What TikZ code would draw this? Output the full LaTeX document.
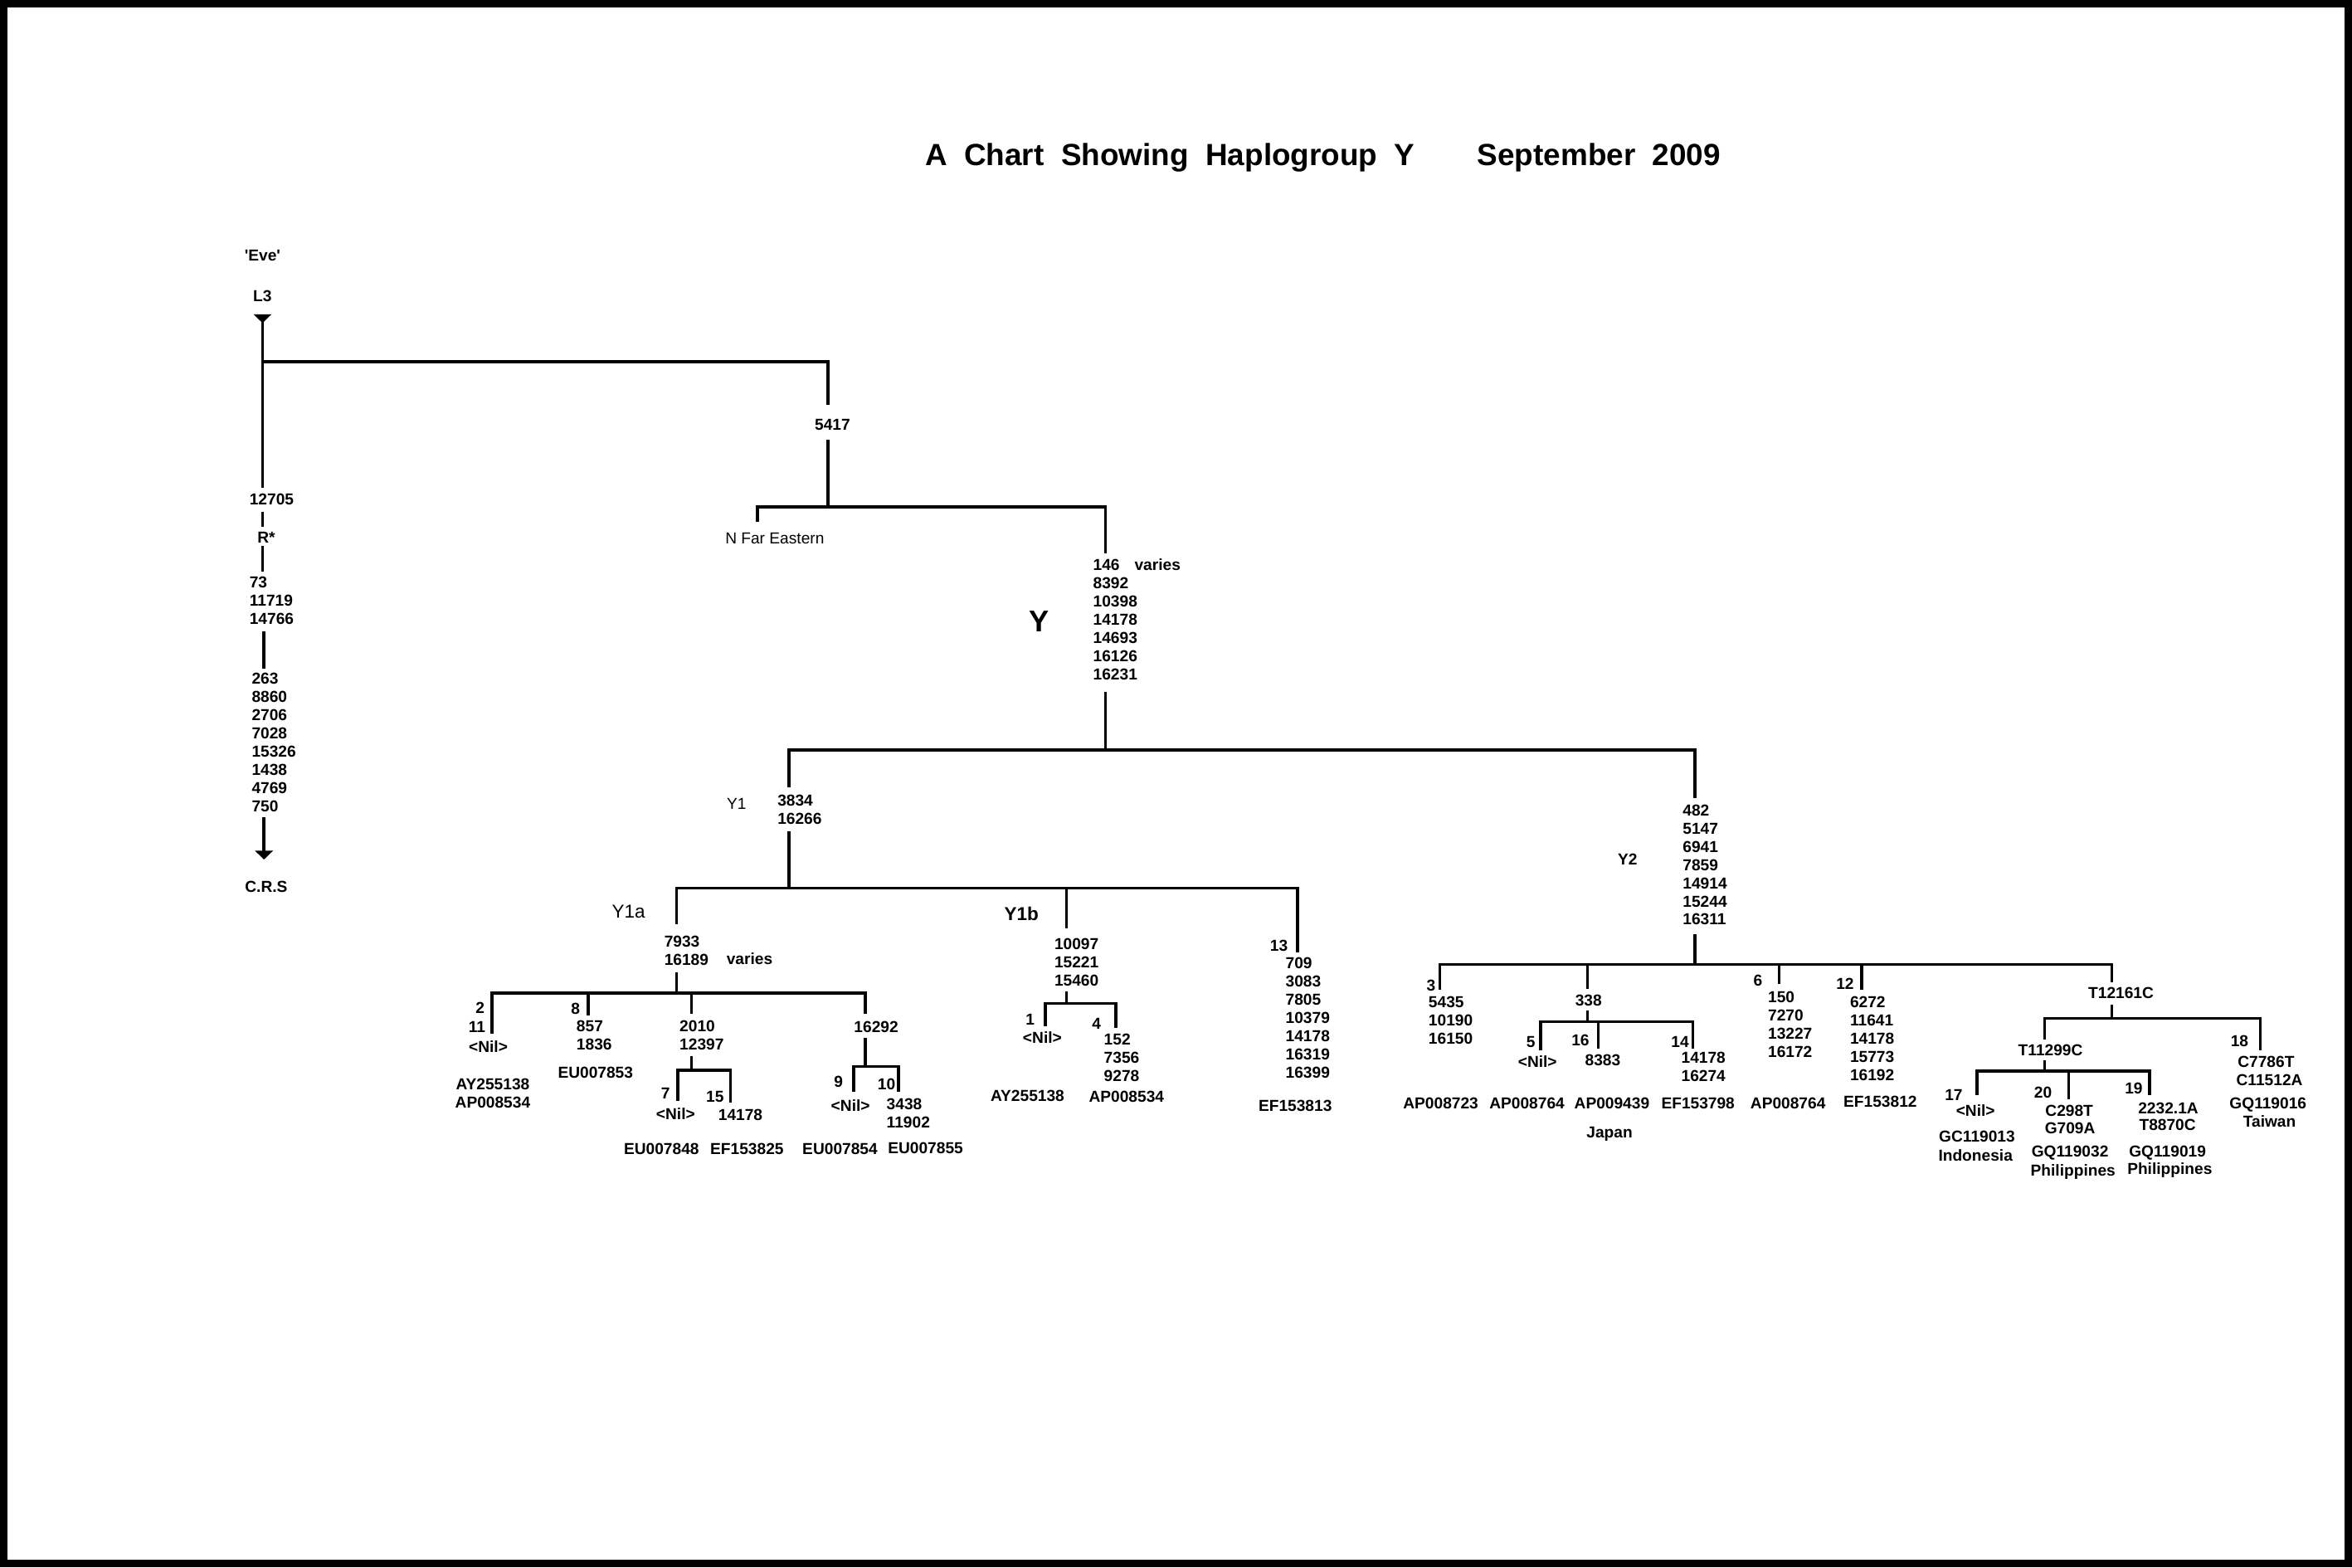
\documentclass[tikz,border=0pt]{standalone}
\usepackage{fontspec}
\setmainfont{Liberation Sans}
\usetikzlibrary{arrows.meta}
\tikzset{
  lbl/.style={font=\fontsize{5.45}{6.25}\selectfont\bfseries, inner sep=0pt, text height=3.9pt, text depth=0pt},
  lblr/.style={font=\fontsize{5.45}{6.25}\selectfont, inner sep=0pt, text height=3.9pt, text depth=0pt},
  blk/.style={font=\fontsize{5.45}{6.25}\selectfont\bfseries, inner sep=0pt, align=left, anchor=north west},
  ttl/.style={font=\fontsize{10.5}{12}\selectfont\bfseries, inner sep=0pt, text height=7.5pt, text depth=0pt},
  subr/.style={font=\fontsize{6.4}{7}\selectfont, inner sep=0pt, text height=4.6pt, text depth=0pt},
  subb/.style={font=\fontsize{6.4}{7}\selectfont\bfseries, inner sep=0pt, text height=4.6pt, text depth=0pt},
  bigy/.style={font=\fontsize{10.3}{12}\selectfont\bfseries, inner sep=0pt, text height=7.4pt, text depth=0pt},
  ln/.style={line width=1pt},
}
\begin{document}
\begin{tikzpicture}[x=0.0180804cm, y=-0.0180804cm]
\useasboundingbox (0,0) rectangle (1568,1045);
\fill[white] (0,0) rectangle (1568,1045);
\draw[line width=2.7pt] (2.6,2.6) rectangle (1565.4,1042.4);

% ---------- title
\node[ttl] (title) at (780,103) {A\ \ Chart\ \ Showing\ \ Haplogroup\ \ Y};
\node[ttl] (date) at (1066,103) {September\ \ 2009};

% ---------- coordinates of the tree
\coordinate (cTri) at (175,209.5);
\coordinate (c12705) at (175,325);
\coordinate (jRoot) at (175,241);
\coordinate (c5417) at (552,270);
\coordinate (c5417b) at (552,293);
\coordinate (jN) at (552,338);
\coordinate (cN) at (505,348);
\coordinate (cY) at (737,369);
\coordinate (cR1) at (175,341); \coordinate (cR2) at (175,351);
\coordinate (cR3) at (175,364); \coordinate (cR4) at (175,381);
\coordinate (cR5) at (176,421); \coordinate (cR6) at (176,446);
\coordinate (cR7) at (176,545); \coordinate (cCRS) at (176,573);
\coordinate (cYb) at (737,461); \coordinate (jY) at (737,500);
\coordinate (cY1) at (526,525); \coordinate (cY2) at (1130,532);
\coordinate (cY1b) at (526,554); \coordinate (jY1) at (526,592);
\coordinate (cY1a) at (451,616); \coordinate (cY1bb) at (711,619); \coordinate (c13) at (865,635);
\coordinate (cY1ab) at (451,648); \coordinate (jY1a) at (451,662);
\coordinate (c2) at (328,689); \coordinate (c8) at (392,677);
\coordinate (c2010) at (461,676); \coordinate (c16292) at (577,676);
\coordinate (c2010b) at (461,704); \coordinate (j2010) at (461,713.5);
\coordinate (c7) at (452,734); \coordinate (c15) at (487,735);
\coordinate (c16292b) at (577,692); \coordinate (j16292) at (577,711);
\coordinate (c9) at (569,728); \coordinate (c10) at (599,728);
\coordinate (cY1bbot) at (711,661); \coordinate (j1b) at (711,669);
\coordinate (c1) at (697,684); \coordinate (c4) at (744,685);
\coordinate (cY2b) at (1130,623); \coordinate (jY2) at (1130,643);
\coordinate (c3) at (960,660); \coordinate (c338) at (1058.4,659);
\coordinate (c6) at (1186,656); \coordinate (c12) at (1241,660); \coordinate (cT1) at (1408,655);
\coordinate (c338b) at (1058.4,673.5); \coordinate (j338) at (1058.4,681);
\coordinate (c5) at (1027,700); \coordinate (c16) at (1065.5,699); \coordinate (c14) at (1128.5,699);
\coordinate (cT1b) at (1408,670); \coordinate (jT1) at (1408,679);
\coordinate (cT2) at (1363,693); \coordinate (c18) at (1507,700);
\coordinate (cT2b) at (1363,707); \coordinate (jT2) at (1363,714);
\coordinate (c17) at (1318,730); \coordinate (c20) at (1379,733); \coordinate (c19) at (1433,730);

% ---------- connectors
\draw[ln, {Triangle[reversed,width=6pt,length=3pt]}-] (cTri) -- (c12705);
\draw[ln] (jRoot) -| (c5417);
\draw[ln] (c5417b) -- (jN);
\draw[ln] (jN) -| (cN);
\draw[ln] (jN) -| (cY);
\draw[ln] (cR1) -- (cR2);
\draw[ln] (cR3) -- (cR4);
\draw[ln] (cR5) -- (cR6);
\draw[ln, -{Triangle[width=6pt,length=3pt]}] (cR7) -- (cCRS);
\draw[ln] (cYb) -- (jY);
\draw[ln] (jY) -| (cY1);
\draw[ln] (jY) -| (cY2);
\draw[ln] (cY1b) -- (jY1);
\draw[ln] (jY1) -| (cY1a);
\draw[ln] (jY1) -| (cY1bb);
\draw[ln] (jY1) -| (c13);
\draw[ln] (cY1ab) -- (jY1a);
\draw[ln] (jY1a) -| (c2);
\draw[ln] (jY1a) -| (c8);
\draw[ln] (jY1a) -| (c2010);
\draw[ln] (jY1a) -| (c16292);
\draw[ln] (c2010b) -- (j2010);
\draw[ln] (j2010) -| (c7);
\draw[ln] (j2010) -| (c15);
\draw[ln] (c16292b) -- (j16292);
\draw[ln] (j16292) -| (c9);
\draw[ln] (j16292) -| (c10);
\draw[ln] (cY1bbot) -- (j1b);
\draw[ln] (j1b) -| (c1);
\draw[ln] (j1b) -| (c4);
\draw[ln] (cY2b) -- (jY2);
\draw[ln] (jY2) -| (c3);
\draw[ln] (jY2) -| (c338);
\draw[ln] (jY2) -| (c6);
\draw[ln] (jY2) -| (c12);
\draw[ln] (jY2) -| (cT1);
\draw[ln] (c338b) -- (j338);
\draw[ln] (j338) -| (c5);
\draw[ln] (j338) -| (c16);
\draw[ln] (j338) -| (c14);
\draw[ln] (cT1b) -- (jT1);
\draw[ln] (jT1) -| (cT2);
\draw[ln] (jT1) -| (c18);
\draw[ln] (cT2b) -- (jT2);
\draw[ln] (jT2) -| (c17);
\draw[ln] (jT2) -| (c20);
\draw[ln] (jT2) -| (c19);

% ---------- left column
\node[lbl] (eve) at (175,170) {\textquotesingle Eve\textquotesingle};
\node[lbl] (L3) at (175,197) {L3};
\node[lbl, anchor=west] (n12705) at (166,333) {12705};
\node[lbl] (Rstar) at (177.5,358) {R*};
\node[blk] (m73) at (166,384.2) {73\\11719\\14766};
\node[blk] (m263) at (167.5,448.5) {263\\8860\\2706\\7028\\15326\\1438\\4769\\750};
\node[lbl] (CRS) at (177.5,591) {C.R.S};

% ---------- 5417 / N / Y
\node[lbl] (n5417) at (555,283) {5417};
\node[lblr] (nfe) at (516.5,359) {N Far Eastern};
\node[blk] (mY) at (728.4,372.7) {146\\8392\\10398\\14178\\14693\\16126\\16231};
\node[lbl, anchor=west] (varY) at (756,376.5) {varies};
\node[bigy] (Ylab) at (692.8,414) {Y};

% ---------- Y1
\node[lblr] (Y1lab) at (491,535.5) {Y1};
\node[blk] (mY1) at (518,529.7) {3834\\16266};

% ---------- Y1a
\node[subr] (Y1alab) at (419,607.6) {Y1a};
\node[blk] (mY1a) at (442.5,623.7) {7933\\16189};
\node[lbl, anchor=west] (varY1a) at (484,639.4) {varies};
\node[lbl] (n2) at (320,671.7) {2};
\node[lbl] (n11) at (318,684.3) {11};
\node[lbl] (nil2) at (325.5,698) {<Nil>};
\node[lbl] (acc2a) at (328.5,722.7) {AY255138};
\node[lbl] (acc2b) at (328.5,735) {AP008534};
\node[lbl] (n8) at (383.7,672.3) {8};
\node[blk] (m8) at (384,680.1) {857\\1836};
\node[lbl] (acc8) at (397,714.7) {EU007853};
\node[blk] (m2010) at (452.7,679.9) {2010\\12397};
\node[lbl] (n7) at (443.7,728.6) {7};
\node[lbl] (nil7) at (450.4,742.5) {<Nil>};
\node[lbl] (n15) at (476.7,731) {15};
\node[lbl, anchor=west] (m15) at (478.5,743) {14178};
\node[lbl] (acc7) at (441,766) {EU007848};
\node[lbl] (acc15) at (498,766) {EF153825};
\node[lbl, anchor=west] (m16292) at (569,684.3) {16292};
\node[lbl] (n9) at (559,721) {9};
\node[lbl] (nil9) at (567,737) {<Nil>};
\node[lbl] (n10) at (591,722.5) {10};
\node[blk] (m10) at (590.7,732.2) {3438\\11902};
\node[lbl] (acc9) at (560,766) {EU007854};
\node[lbl] (acc10) at (617,765.3) {EU007855};

% ---------- Y1b
\node[subb] (Y1blab) at (681,609) {Y1b};
\node[blk] (m1b) at (702.6,625.2) {10097\\15221\\15460};
\node[lbl] (n1) at (686.8,679.3) {1};
\node[lbl] (nil1) at (694.9,691.6) {<Nil>};
\node[lbl] (n4) at (731,682.2) {4};
\node[blk] (m4) at (735.6,689) {152\\7356\\9278};
\node[lbl] (acc1) at (685,730.6) {AY255138};
\node[lbl] (acc4) at (751,731) {AP008534};

% ---------- 13
\node[lbl] (n13) at (852.6,630.4) {13};
\node[blk] (m13) at (856.7,638.2) {709\\3083\\7805\\10379\\14178\\16319\\16399};
\node[lbl] (acc13) at (863.5,737) {EF153813};

% ---------- Y2
\node[lbl] (Y2lab) at (1085,572.6) {Y2};
\node[blk] (mY2) at (1121.5,536) {482\\5147\\6941\\7859\\14914\\15244\\16311};
\node[lbl] (n3) at (954,656.7) {3};
\node[blk] (m3) at (952,664.2) {5435\\10190\\16150};
\node[lbl] (acc3) at (960.5,735.2) {AP008723};
\node[lbl] (n338) at (1059,666.6) {338};
\node[lbl] (n5) at (1020.5,694.4) {5};
\node[lbl] (nil5) at (1025,707.8) {<Nil>};
\node[lbl] (acc5) at (1018,735.2) {AP008764};
\node[lbl] (n16) at (1053.6,693.4) {16};
\node[lbl] (m16) at (1068.5,706.4) {8383};
\node[lbl] (acc16) at (1074.6,735.2) {AP009439};
\node[lbl] (n14) at (1120,694.2) {14};
\node[blk] (m14) at (1120.5,701.2) {14178\\16274};
\node[lbl] (acc14) at (1132,735.2) {EF153798};
\node[lbl] (japan) at (1073,754.5) {Japan};
\node[lbl] (n6) at (1172,653.5) {6};
\node[blk] (m6) at (1178.3,660.8) {150\\7270\\13227\\16172};
\node[lbl] (acc6) at (1192,735.2) {AP008764};
\node[lbl] (n12) at (1230,655.6) {12};
\node[blk] (m12) at (1233,664) {6272\\11641\\14178\\15773\\16192};
\node[lbl] (acc12) at (1253.5,734.5) {EF153812};

% ---------- T12161C
\node[lbl] (nT1) at (1414,662) {T12161C};
\node[lbl] (nT2) at (1367,700) {T11299C};
\node[lbl] (n17) at (1302.5,730) {17};
\node[lbl] (nil17) at (1317,740.5) {<Nil>};
\node[lbl] (acc17) at (1318,757.5) {GC119013};
\node[lbl] (loc17) at (1317,770) {Indonesia};
\node[lbl] (n20) at (1362,728) {20};
\node[lbl] (m20a) at (1379.5,740.5) {C298T};
\node[lbl] (m20b) at (1380,752) {G709A};
\node[lbl] (acc20) at (1380,767.5) {GQ119032};
\node[lbl] (loc20) at (1382,780) {Philippines};
\node[lbl] (n19) at (1422.5,725.5) {19};
\node[lbl] (m19a) at (1445.5,738.5) {2232.1A};
\node[lbl] (m19b) at (1445,750) {T8870C};
\node[lbl] (acc19) at (1445,767.5) {GQ119019};
\node[lbl] (loc19) at (1446.5,779) {Philippines};
\node[lbl] (n18) at (1493,694) {18};
\node[lbl] (m18a) at (1510.7,707.5) {C7786T};
\node[lbl] (m18b) at (1513,720) {C11512A};
\node[lbl] (acc18) at (1512,735.5) {GQ119016};
\node[lbl] (loc18) at (1513,747.5) {Taiwan};
\end{tikzpicture}
\end{document}
